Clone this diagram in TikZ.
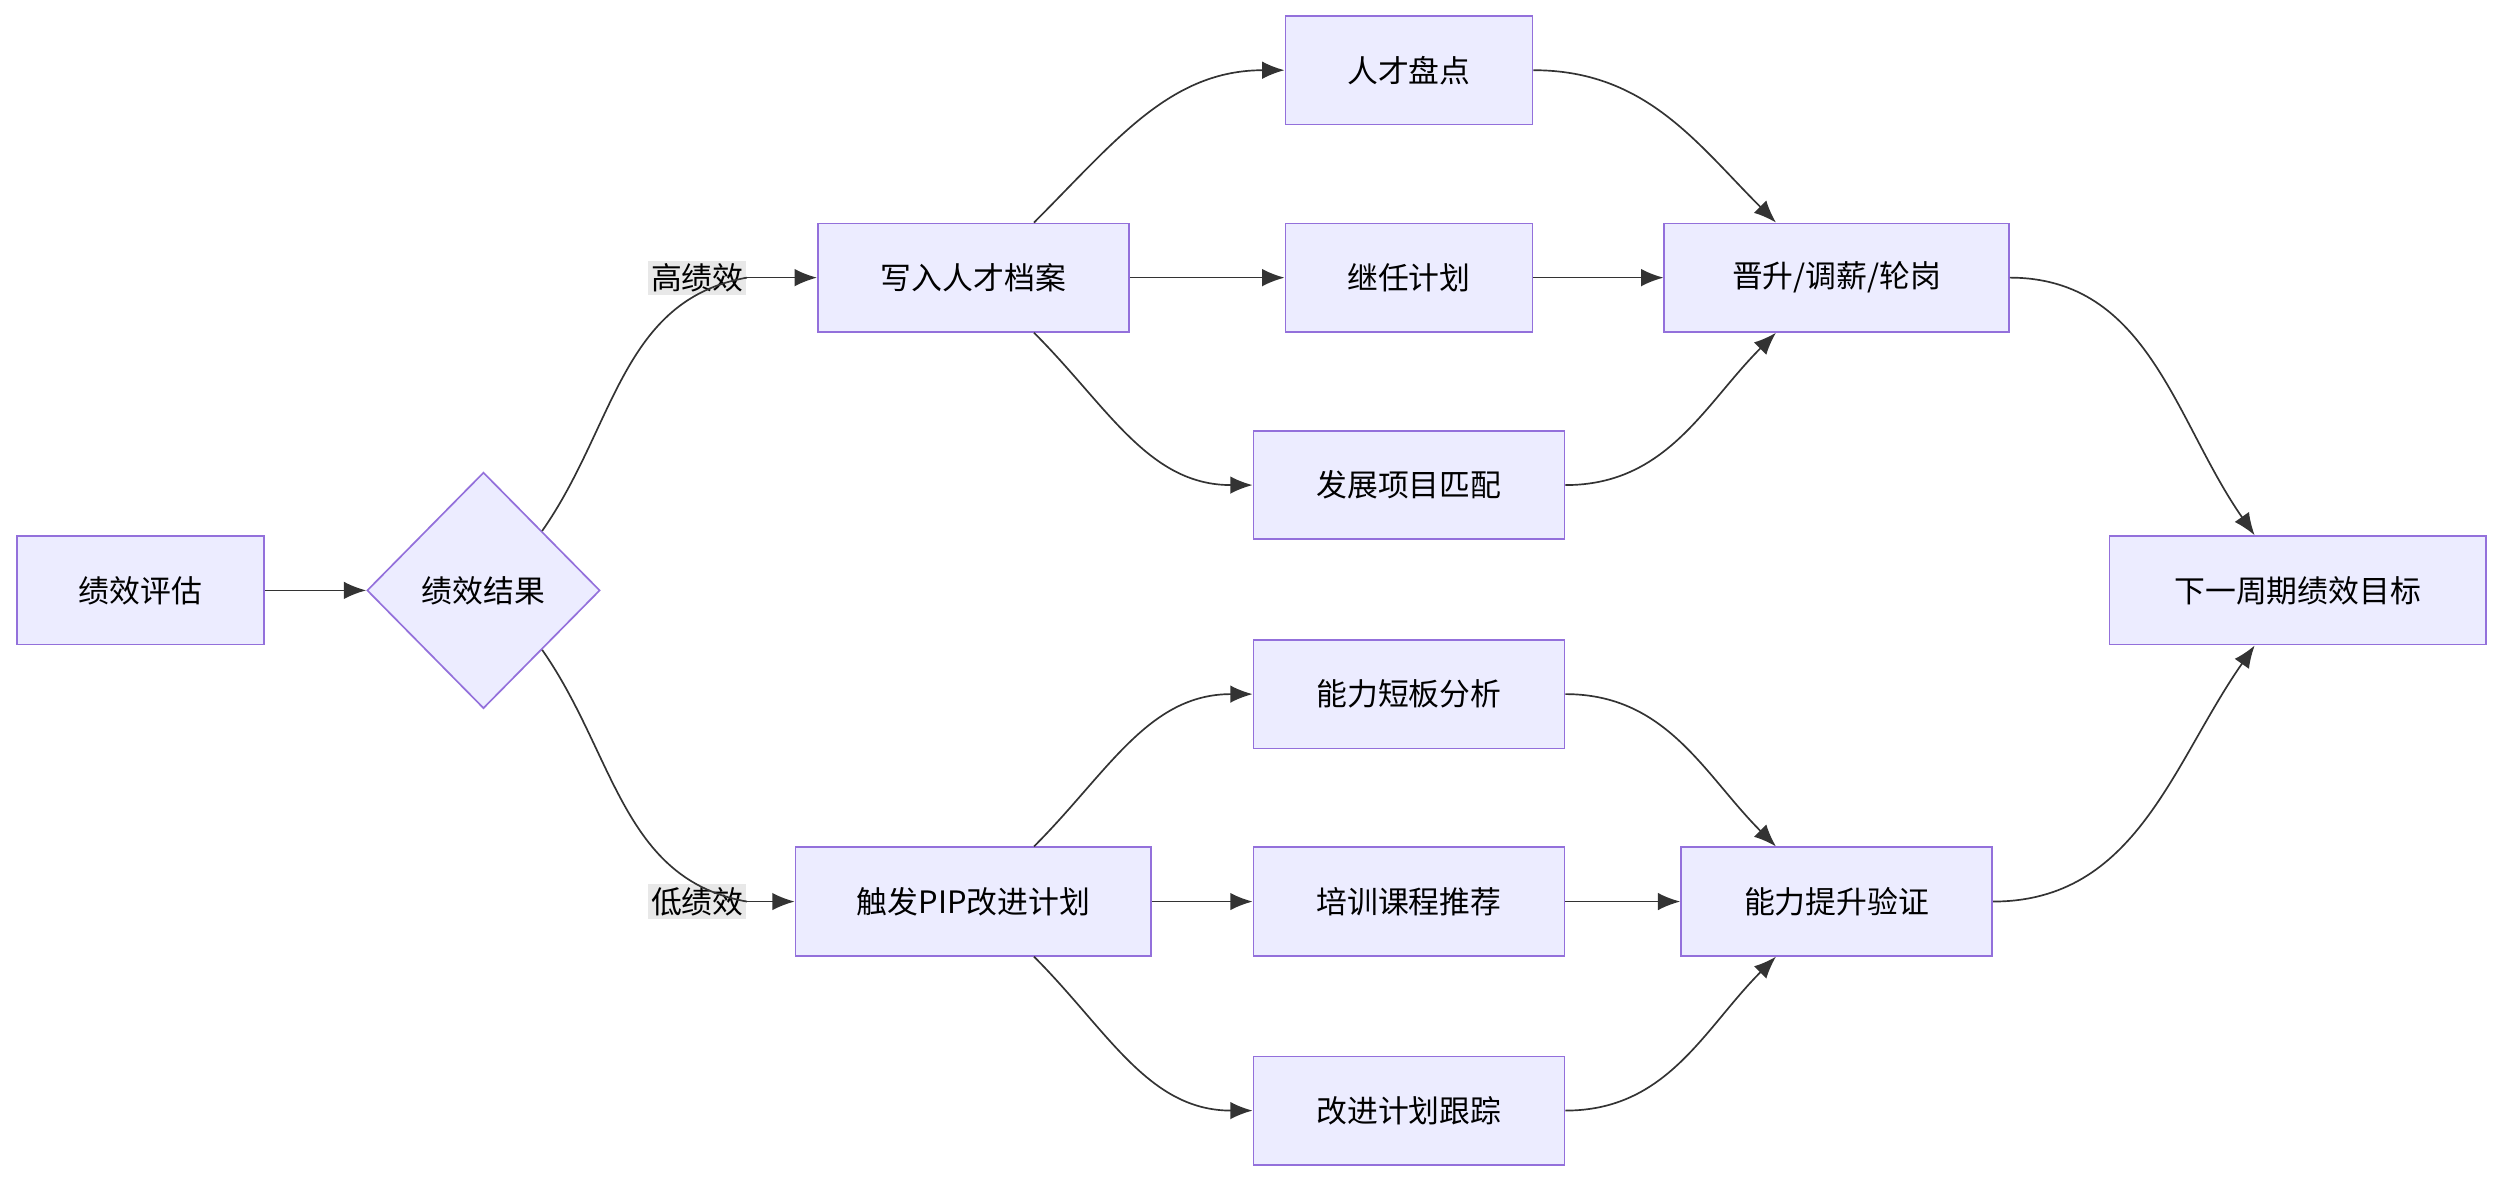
\documentclass[tikz,border=0pt]{standalone}
\usepackage{fontspec}
\setmainfont{Noto Sans CJK SC}
\usetikzlibrary{shapes.geometric,arrows.meta,calc}
\definecolor{boxfill}{HTML}{ECECFF}
\definecolor{boxline}{HTML}{9370DB}
\definecolor{edge}{HTML}{333333}
\definecolor{lblbg}{HTML}{E8E8E8}
\begin{document}
\begin{tikzpicture}[x=0.02cm,y=0.02cm,font=\fontsize{11}{13}\selectfont]
	\tikzstyle{stage}=[draw=boxline,fill=boxfill,line width=0.6pt,minimum height=1.36cm,inner sep=2pt]
	\tikzstyle{choice}=[diamond,draw=boxline,fill=boxfill,line width=0.6pt,minimum width=2.92cm,minimum height=2.96cm,inner sep=0pt]
	\tikzstyle{tag}=[fill=lblbg,inner sep=1pt]
	\tikzstyle{relation}=[-{Latex[length=2.8mm,width=2.2mm]},draw=edge,line width=0.6pt]

	\useasboundingbox (0,0) rectangle (1568,-740);

	\node[stage,minimum width=3.1cm] (eval) at (88,-370) {绩效评估};
	\node[choice] (result) at (303,-370) {绩效结果};
	\node[tag] (high) at (437,-174) {高绩效};
	\node[tag] (low) at (437,-565) {低绩效};
	\node[stage,minimum width=3.9cm] (archive) at (610,-174) {写入人才档案};
	\node[stage,minimum width=4.46cm] (pip) at (610,-565) {触发PIP改进计划};
	\node[stage,minimum width=3.1cm] (review) at (883,-44) {人才盘点};
	\node[stage,minimum width=3.1cm] (succ) at (883,-174) {继任计划};
	\node[stage,minimum width=3.9cm] (devmatch) at (883,-304) {发展项目匹配};
	\node[stage,minimum width=3.9cm] (gap) at (883,-435) {能力短板分析};
	\node[stage,minimum width=3.9cm] (course) at (883,-565) {培训课程推荐};
	\node[stage,minimum width=3.9cm] (track) at (883,-696) {改进计划跟踪};
	\node[stage,minimum width=4.32cm] (promo) at (1151,-174) {晋升/调薪/轮岗};
	\node[stage,minimum width=3.9cm] (verify) at (1151,-565) {能力提升验证};
	\node[stage,minimum width=4.72cm] (next) at (1440,-370) {下一周期绩效目标};

	\draw[relation] (eval) -- (result);
	\draw[draw=edge,line width=0.6pt] (result.north east) to[out=55,in=190] (high.east);
	\draw[relation] (high.east) -- (archive.west);
	\draw[draw=edge,line width=0.6pt] (result.south east) to[out=-55,in=170] (low.east);
	\draw[relation] (low.east) -- (pip.west);

	\draw[relation] ($(archive.north)+(38,0)$) to[out=45,in=180] (review.west);
	\draw[relation] (archive) -- (succ);
	\draw[relation] ($(archive.south)+(38,0)$) to[out=-45,in=180] (devmatch.west);
	\draw[relation] ($(pip.north)+(38,0)$) to[out=45,in=180] (gap.west);
	\draw[relation] (pip) -- (course);
	\draw[relation] ($(pip.south)+(38,0)$) to[out=-45,in=180] (track.west);

	\draw[relation] (review.east) to[out=0,in=135] ($(promo.north)+(-38,0)$);
	\draw[relation] (succ) -- (promo);
	\draw[relation] (devmatch.east) to[out=0,in=-135] ($(promo.south)+(-38,0)$);
	\draw[relation] (gap.east) to[out=0,in=135] ($(verify.north)+(-38,0)$);
	\draw[relation] (course) -- (verify);
	\draw[relation] (track.east) to[out=0,in=-135] ($(verify.south)+(-38,0)$);

	\draw[relation] (promo.east) to[out=0,in=125] ($(next.north)+(-27,0)$);
	\draw[relation] (verify.east) to[out=0,in=-125] ($(next.south)+(-27,0)$);
\end{tikzpicture}
\end{document}
